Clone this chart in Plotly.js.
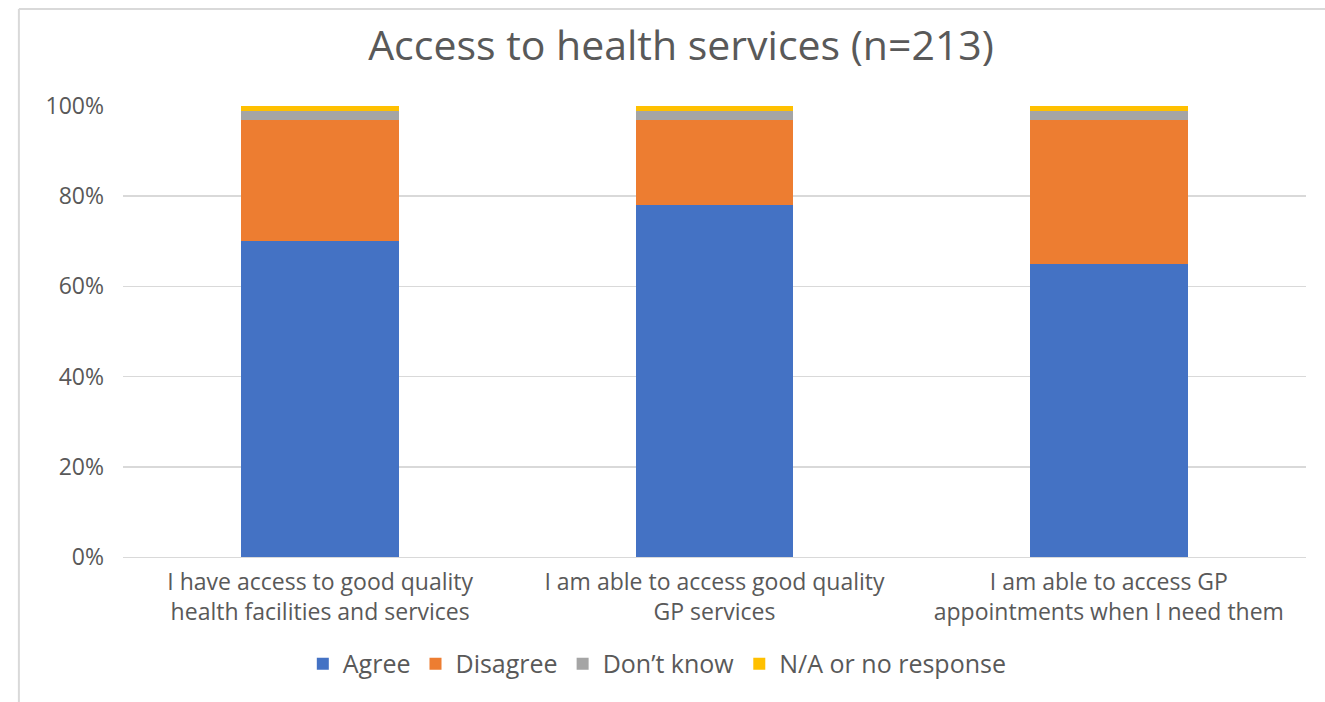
<!DOCTYPE html>
<html><head><meta charset="utf-8">
<script src="https://cdn.plot.ly/plotly-3.0.1.min.js"></script>
<style>html,body{margin:0;padding:0;background:#fff;}#chart{width:1325px;height:702px;}</style>
</head><body><div id="chart"></div>
<script>
var categories = [
  "I have access to good quality<br>health facilities and services",
  "I am able to access good quality<br>GP services",
  "I am able to access GP<br>appointments when I need them"
];
var agree = [0.70, 0.78, 0.65];
var disagree = [0.27, 0.19, 0.32];
var dontKnow = [0.02, 0.02, 0.02];
var naResp = [0.01, 0.01, 0.01];
var seriesNames = ["Agree", "Disagree", "Don\u2019t know", "N/A or no response"];
var colors = ["#4472C4", "#ED7D31", "#A5A5A5", "#FFC000"];
var yTicks = [0, 0.2, 0.4, 0.6, 0.8, 1.0];
var yTickText = ["0%", "20%", "40%", "60%", "80%", "100%"];

var vals = [agree, disagree, dontKnow, naResp];
var traces = vals.map(function(v, i){
  return {type:"bar", x:categories, y:v, name:seriesNames[i],
    marker:{color:colors[i]}, hoverinfo:"none"};
});
var font = "'Open Sans', sans-serif";
var layout = {
  width:1325, height:702,
  barmode:"stack", bargap:0.6,
  margin:{l:123, r:19, t:106, b:145},
  paper_bgcolor:"#fff", plot_bgcolor:"#fff",
  font:{family:font, color:"#595959", size:22},
  title:{text:"Access to health services (n=213)", font:{size:41, color:"#595959", family:font}, x:0.514, xanchor:"center", y:0.935, yanchor:"middle"},
  xaxis:{tickfont:{size:23, color:"#595959"}, showline:true, linecolor:"#D9D9D9", linewidth:1, ticks:"", showgrid:false, ticklabelstandoff:4},
  yaxis:{range:[0,1], tickvals:yTicks, ticktext:yTickText, showgrid:true, gridcolor:"#D9D9D9", gridwidth:1.5, zeroline:false, ticks:"", tickfont:{size:23, color:"#595959"}, ticklabelstandoff:18},
  legend:{orientation:"h", x:0.152, xanchor:"left", y:-0.237, yanchor:"middle", font:{size:25, color:"#595959"}, traceorder:"normal", itemwidth:30},
  shapes:[
    {type:"line", xref:"paper", yref:"paper", x0:-0.088, x1:1.02, y0:1.215, y1:1.215, line:{color:"#D9D9D9", width:2}},
    {type:"line", xref:"paper", yref:"paper", x0:-0.088, x1:-0.088, y0:1.215, y1:-0.33, line:{color:"#D9D9D9", width:2}}
  ]
};
Plotly.newPlot("chart", traces, layout, {displayModeBar:false, staticPlot:true});
</script></body></html>
